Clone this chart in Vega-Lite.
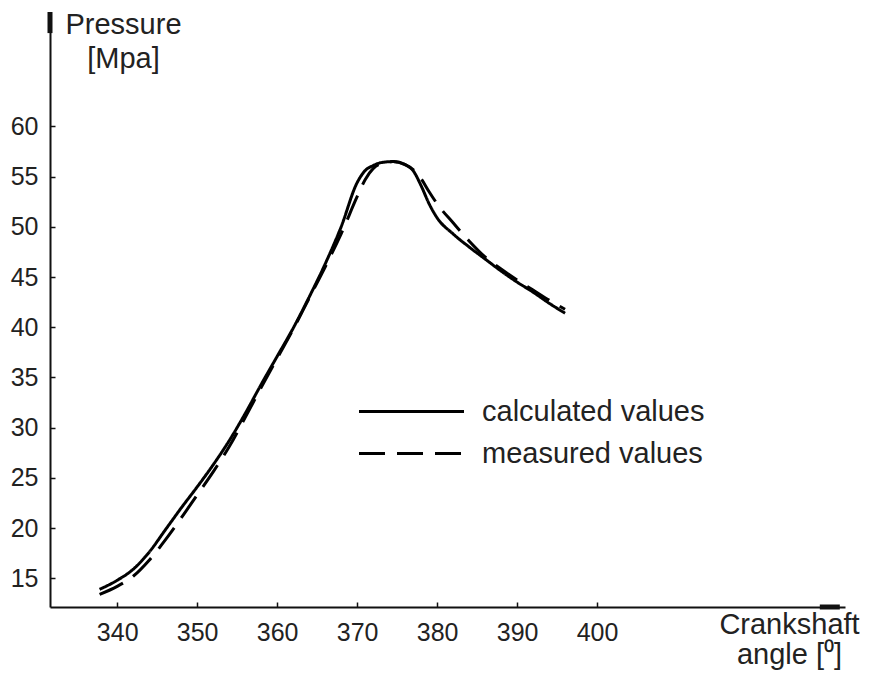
{
  "$schema": "https://vega.github.io/schema/vega-lite/v6.json",
  "width": 795,
  "height": 595,
  "autosize": {"type": "none"},
  "padding": {"left": 50, "top": 12, "right": 24, "bottom": 81},
  "background": "white",
  "config": {
    "view": {"stroke": null},
    "font": "Liberation Sans",
    "axis": {
      "grid": false,
      "domainColor": "#111111",
      "domainWidth": 2,
      "tickColor": "#111111",
      "tickWidth": 1.5,
      "tickSize": -5,
      "labelColor": "#222222",
      "titleColor": "#222222",
      "labelFont": "Liberation Sans",
      "titleFont": "Liberation Sans",
      "labelFontSize": 25,
      "titleFontSize": 29,
      "titleFontWeight": "normal"
    }
  },
  "datasets": {
    "pressure": [
      {"angle": 337.8, "pressure": 13.9, "series": "calculated values"},
      {"angle": 340, "pressure": 14.8, "series": "calculated values"},
      {"angle": 342, "pressure": 15.9, "series": "calculated values"},
      {"angle": 344, "pressure": 17.6, "series": "calculated values"},
      {"angle": 346, "pressure": 19.8, "series": "calculated values"},
      {"angle": 348, "pressure": 22.0, "series": "calculated values"},
      {"angle": 350, "pressure": 24.1, "series": "calculated values"},
      {"angle": 352, "pressure": 26.3, "series": "calculated values"},
      {"angle": 354, "pressure": 28.7, "series": "calculated values"},
      {"angle": 356, "pressure": 31.4, "series": "calculated values"},
      {"angle": 358, "pressure": 34.3, "series": "calculated values"},
      {"angle": 360, "pressure": 37.1, "series": "calculated values"},
      {"angle": 362, "pressure": 39.9, "series": "calculated values"},
      {"angle": 364, "pressure": 43.0, "series": "calculated values"},
      {"angle": 366, "pressure": 46.3, "series": "calculated values"},
      {"angle": 368, "pressure": 50.0, "series": "calculated values"},
      {"angle": 370, "pressure": 54.4, "series": "calculated values"},
      {"angle": 371, "pressure": 55.6, "series": "calculated values"},
      {"angle": 372, "pressure": 56.1, "series": "calculated values"},
      {"angle": 373, "pressure": 56.4, "series": "calculated values"},
      {"angle": 374.5, "pressure": 56.5, "series": "calculated values"},
      {"angle": 376, "pressure": 56.2, "series": "calculated values"},
      {"angle": 377, "pressure": 55.6, "series": "calculated values"},
      {"angle": 378, "pressure": 54.1, "series": "calculated values"},
      {"angle": 379, "pressure": 52.3, "series": "calculated values"},
      {"angle": 380, "pressure": 50.9, "series": "calculated values"},
      {"angle": 382, "pressure": 49.3, "series": "calculated values"},
      {"angle": 384, "pressure": 48.0, "series": "calculated values"},
      {"angle": 386, "pressure": 46.8, "series": "calculated values"},
      {"angle": 388, "pressure": 45.6, "series": "calculated values"},
      {"angle": 390, "pressure": 44.5, "series": "calculated values"},
      {"angle": 392, "pressure": 43.5, "series": "calculated values"},
      {"angle": 394, "pressure": 42.4, "series": "calculated values"},
      {"angle": 396, "pressure": 41.4, "series": "calculated values"},
      {"angle": 337.8, "pressure": 13.4, "series": "measured values"},
      {"angle": 340, "pressure": 14.2, "series": "measured values"},
      {"angle": 342, "pressure": 15.2, "series": "measured values"},
      {"angle": 344, "pressure": 16.8, "series": "measured values"},
      {"angle": 346, "pressure": 18.8, "series": "measured values"},
      {"angle": 348, "pressure": 21.0, "series": "measured values"},
      {"angle": 350, "pressure": 23.3, "series": "measured values"},
      {"angle": 352, "pressure": 25.6, "series": "measured values"},
      {"angle": 354, "pressure": 28.1, "series": "measured values"},
      {"angle": 356, "pressure": 31.0, "series": "measured values"},
      {"angle": 358, "pressure": 34.0, "series": "measured values"},
      {"angle": 360, "pressure": 36.9, "series": "measured values"},
      {"angle": 362, "pressure": 39.8, "series": "measured values"},
      {"angle": 364, "pressure": 42.9, "series": "measured values"},
      {"angle": 366, "pressure": 46.0, "series": "measured values"},
      {"angle": 368, "pressure": 49.3, "series": "measured values"},
      {"angle": 370, "pressure": 53.0, "series": "measured values"},
      {"angle": 371, "pressure": 54.7, "series": "measured values"},
      {"angle": 372, "pressure": 55.8, "series": "measured values"},
      {"angle": 373, "pressure": 56.3, "series": "measured values"},
      {"angle": 374.5, "pressure": 56.5, "series": "measured values"},
      {"angle": 376, "pressure": 56.2, "series": "measured values"},
      {"angle": 377, "pressure": 55.7, "series": "measured values"},
      {"angle": 378, "pressure": 54.8, "series": "measured values"},
      {"angle": 379, "pressure": 53.5, "series": "measured values"},
      {"angle": 380, "pressure": 52.3, "series": "measured values"},
      {"angle": 382, "pressure": 50.4, "series": "measured values"},
      {"angle": 384, "pressure": 48.6, "series": "measured values"},
      {"angle": 386, "pressure": 47.0, "series": "measured values"},
      {"angle": 388, "pressure": 45.8, "series": "measured values"},
      {"angle": 390, "pressure": 44.7, "series": "measured values"},
      {"angle": 392, "pressure": 43.7, "series": "measured values"},
      {"angle": 394, "pressure": 42.7, "series": "measured values"},
      {"angle": 396, "pressure": 41.8, "series": "measured values"}
    ]
  },
  "layer": [
    {
      "data": {"name": "pressure"},
      "mark": {"type": "line", "color": "black", "strokeWidth": 3, "interpolate": "monotone"},
      "encoding": {
        "x": {
          "field": "angle",
          "type": "quantitative",
          "scale": {"domain": [331.6, 431], "nice": false, "zero": false},
          "axis": {
            "values": [340, 350, 360, 370, 380, 390, 400],
            "labelPadding": 18,
            "title": ["Crankshaft", "angle [⁰]"],
            "titleX": 739,
            "titleY": 26,
            "titleAlign": "center",
            "titleBaseline": "alphabetic",
            "titleLineHeight": 30
          }
        },
        "y": {
          "field": "pressure",
          "type": "quantitative",
          "scale": {"domain": [12.14, 71.4], "nice": false, "zero": false},
          "axis": {
            "values": [15, 20, 25, 30, 35, 40, 45, 50, 55, 60],
            "labelPadding": 17,
            "title": ["Pressure", "[Mpa]"],
            "titleAngle": 0,
            "titleX": 73,
            "titleY": 21,
            "titleAlign": "center",
            "titleBaseline": "alphabetic",
            "titleLineHeight": 34
          }
        },
        "strokeDash": {
          "field": "series",
          "type": "nominal",
          "scale": {
            "domain": ["calculated values", "measured values"],
            "range": [[1, 0], [26, 12]]
          },
          "legend": {
            "title": null,
            "orient": "none",
            "legendX": 347,
            "legendY": 385,
            "padding": 0,
            "symbolType": "M-5,0H5",
            "symbolSize": 441,
            "symbolStrokeWidth": 3,
            "symbolStrokeColor": "black",
            "symbolFillColor": "transparent",
            "labelFont": "Liberation Sans",
            "labelFontSize": 29,
            "labelColor": "#222222",
            "labelOffset": 56,
            "labelLimit": 400,
            "rowPadding": 12
          }
        }
      }
    },
    {
      "data": {"values": [{}]},
      "mark": {"type": "rule", "color": "#111111", "strokeWidth": 5},
      "encoding": {
        "x": {"datum": 331.6, "type": "quantitative"},
        "y": {"datum": 69.3, "type": "quantitative"},
        "y2": {"datum": 71.4}
      }
    },
    {
      "data": {"values": [{}]},
      "mark": {"type": "rule", "color": "#111111", "strokeWidth": 5},
      "encoding": {
        "y": {"datum": 12.14, "type": "quantitative"},
        "x": {"datum": 427.85, "type": "quantitative"},
        "x2": {"datum": 430.35}
      }
    }
  ]
}
